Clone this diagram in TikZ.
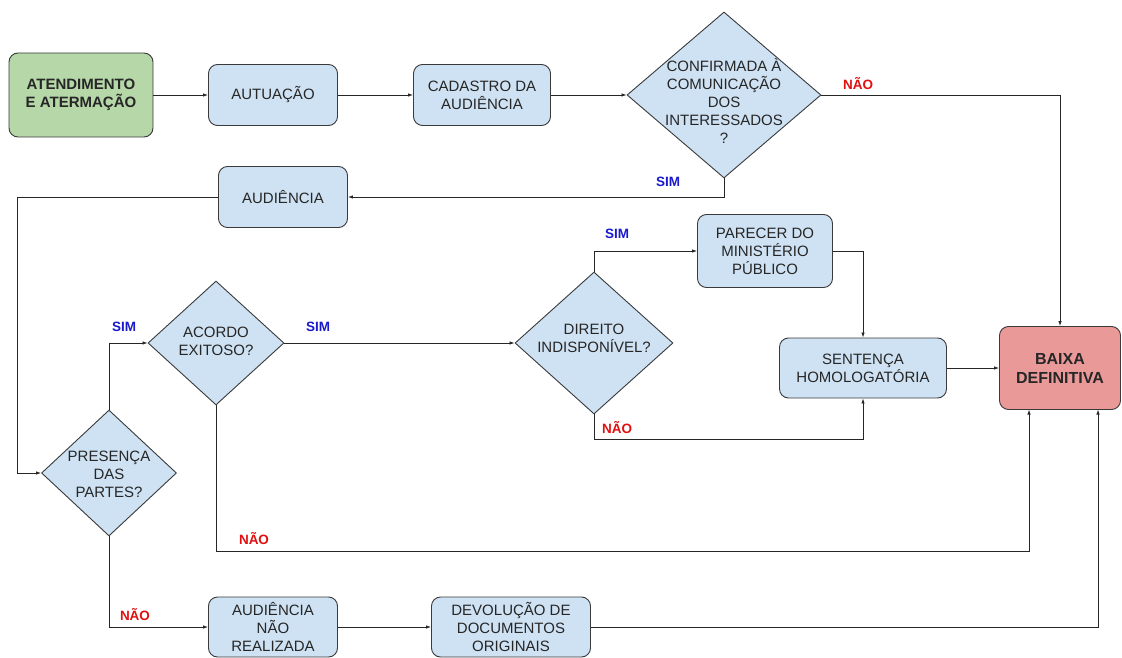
\documentclass[tikz,border=0pt]{standalone}
\usepackage{fontspec}
\setmainfont{Liberation Sans}
\usetikzlibrary{shapes.geometric,arrows.meta}
\definecolor{boxblue}{HTML}{CFE2F3}
\definecolor{boxgreen}{HTML}{B6D7A8}
\definecolor{boxred}{HTML}{EA9999}
\definecolor{edge}{HTML}{3A3A3A}
\definecolor{simblue}{HTML}{1A1ACC}
\definecolor{naored}{HTML}{E01010}
\begin{document}
\begin{tikzpicture}[x=1pt,y=-1pt,
  box/.style={draw=edge, line width=0.9pt, rounded corners=9pt, fill=boxblue, align=center,
    font=\fontsize{15}{18}\selectfont, text=black!85, inner sep=0pt},
  dia/.style={draw=edge, line width=0.9pt, shape=diamond, fill=boxblue, inner sep=0pt},
  diatext/.style={align=center, font=\fontsize{15}{18}\selectfont, text=black!85, inner sep=0pt},
  conn/.style={draw=black!85, line width=0.8pt, -{Latex[length=5pt,width=3.5pt]}},
  sim/.style={font=\bfseries\fontsize{13.5}{16}\selectfont, text=simblue, inner sep=0pt},
  nao/.style={font=\bfseries\fontsize{13.5}{16}\selectfont, text=naored, inner sep=0pt}]
\useasboundingbox (0,0) rectangle (1122,658);

% nodes
\node[box, fill=boxgreen, minimum width=144pt, minimum height=84pt, font=\bfseries\fontsize{15}{18}\selectfont] (at) at (81,95) {ATENDIMENTO\\E ATERMAÇÃO};
\node[box, minimum width=129pt, minimum height=61pt] (aut) at (273,95) {AUTUAÇÃO};
\node[box, minimum width=137pt, minimum height=61pt] (cad) at (482,95) {CADASTRO DA\\AUDIÊNCIA};
\node[dia, minimum width=194pt, minimum height=166pt] (c1) at (724,95) {};
\node[diatext] (c1t) at (724,101) {CONFIRMADA À\\COMUNICAÇÃO\\DOS\\INTERESSADOS\\?};
\node[box, minimum width=129pt, minimum height=61pt] (aud) at (283,197) {AUDIÊNCIA};
\node[box, minimum width=135pt, minimum height=73pt] (par) at (765,251) {PARECER DO\\MINISTÉRIO\\PÚBLICO};
\node[dia, minimum width=136pt, minimum height=124pt] (ac) at (216,343) {};
\node[diatext] (act) at (216,341) {ACORDO\\EXITOSO?};
\node[dia, minimum width=158pt, minimum height=142pt] (di) at (594,343) {};
\node[diatext] (dit) at (594,338) {DIREITO\\INDISPONÍVEL?};
\node[box, minimum width=167pt, minimum height=60pt] (sen) at (863,368) {SENTENÇA\\HOMOLOGATÓRIA};
\node[box, fill=boxred, minimum width=121pt, minimum height=83pt, font=\bfseries\fontsize{16}{19}\selectfont] (bx) at (1060,368) {BAIXA\\DEFINITIVA};
\node[dia, minimum width=135pt, minimum height=126pt] (pr) at (109,473) {};
\node[diatext] (prt) at (109,474) {PRESENÇA\\DAS\\PARTES?};
\node[box, minimum width=129pt, minimum height=60pt] (anr) at (273,627) {AUDIÊNCIA\\NÃO\\REALIZADA};
\node[box, minimum width=159pt, minimum height=60pt] (dev) at (511,627) {DEVOLUÇÃO DE\\DOCUMENTOS\\ORIGINAIS};

\coordinate (audleft) at (17,197);
\coordinate (acbot) at (216,551);
\coordinate (dibot) at (594,439);
\coordinate (bxa) at (1029,409.5);
\coordinate (bxb) at (1098,409.5);

% connectors
\draw[conn] (at.east) -- (aut.west);
\draw[conn] (aut.east) -- (cad.west);
\draw[conn] (cad.east) -- (c1.west);
\draw[conn] (c1.east) -| (bx.north);
\draw[conn] (c1.south) |- (aud.east);
\draw[conn] (aud.west) -- (audleft) |- (pr.west);
\draw[conn] (pr.north) |- (ac.west);
\draw[conn] (pr.south) |- (anr.west);
\draw[conn] (anr.east) -- (dev.west);
\draw[conn] (dev.east) -| (bxb);
\draw[conn] (ac.east) -- (di.west);
\draw[conn] (ac.south) -- (acbot) -| (bxa);
\draw[conn] (di.north) |- (par.west);
\draw[conn] (par.east) -| (sen.north);
\draw[conn] (di.south) -- (dibot) -| (sen.south);
\draw[conn] (sen.east) -- (bx.west);

% labels
\node[nao] (l1) at (858,84) {NÃO};
\node[sim] (l2) at (668,182) {SIM};
\node[sim] (l3) at (124,327) {SIM};
\node[sim] (l4) at (318,327) {SIM};
\node[sim] (l5) at (617,234) {SIM};
\node[nao] (l6) at (617,428) {NÃO};
\node[nao] (l7) at (254,539) {NÃO};
\node[nao] (l8) at (135,615) {NÃO};
\end{tikzpicture}
\end{document}
